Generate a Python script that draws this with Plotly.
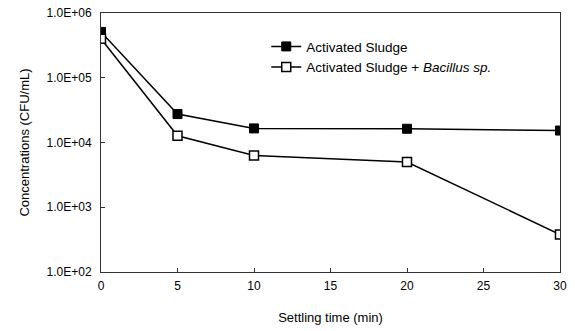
import plotly.graph_objects as go

time_min = [0, 5, 10, 20, 30]
activated_sludge = [5.1e5, 2.75e4, 1.65e4, 1.63e4, 1.53e4]
sludge_bacillus = [4.0e5, 1.27e4, 6.3e3, 5.0e3, 3.8e2]
y_tickvals = [1e2, 1e3, 1e4, 1e5, 1e6]
y_ticktext = ["1.0E+02", "1.0E+03", "1.0E+04", "1.0E+05", "1.0E+06"]
x_tickvals = [0, 5, 10, 15, 20, 25, 30]

FONT = "Liberation Sans, Arial, sans-serif"

fig = go.Figure()
fig.add_trace(go.Scatter(
    x=time_min, y=activated_sludge, mode="lines+markers",
    name="Activated Sludge",
    line=dict(color="black", width=1.5),
    marker=dict(symbol="square", size=9, color="black", line=dict(color="black", width=1)),
))
fig.add_trace(go.Scatter(
    x=time_min, y=sludge_bacillus, mode="lines+markers",
    name="Activated Sludge + <i>Bacillus sp.</i>",
    line=dict(color="black", width=1.5),
    marker=dict(symbol="square", size=9, color="white", line=dict(color="black", width=1.5)),
))

fig.update_layout(
    width=575, height=331,
    margin=dict(l=101, r=15, t=13, b=59),
    paper_bgcolor="white", plot_bgcolor="white",
    font=dict(family=FONT, size=12, color="black"),
    showlegend=True,
    legend=dict(x=0.36, y=0.93, xanchor="left", yanchor="top",
                bgcolor="rgba(0,0,0,0)", font=dict(size=13.5, family=FONT),
                tracegroupgap=0, itemwidth=30),
)
fig.update_xaxes(
    range=[0, 30], tickvals=x_tickvals, ticks="inside", ticklen=4,
    tickcolor="#333", showline=True, linecolor="#333", linewidth=1, mirror=True,
    showgrid=False, zeroline=False, automargin=False,
    title=dict(text="Settling time (min)", font=dict(size=13), standoff=20),
    tickfont=dict(size=12), ticklabelstandoff=3,
)
fig.update_yaxes(
    type="log", range=[2, 6], tickvals=y_tickvals, ticktext=y_ticktext,
    ticks="inside", ticklen=4, tickcolor="#333",
    showline=True, linecolor="#333", linewidth=1, mirror=True,
    showgrid=False, zeroline=False, automargin=False,
    title=dict(text="Concentrations (CFU/mL)", font=dict(size=13), standoff=14),
    tickfont=dict(size=12), ticklabelstandoff=6,
)

fig.write_html("out.html")
